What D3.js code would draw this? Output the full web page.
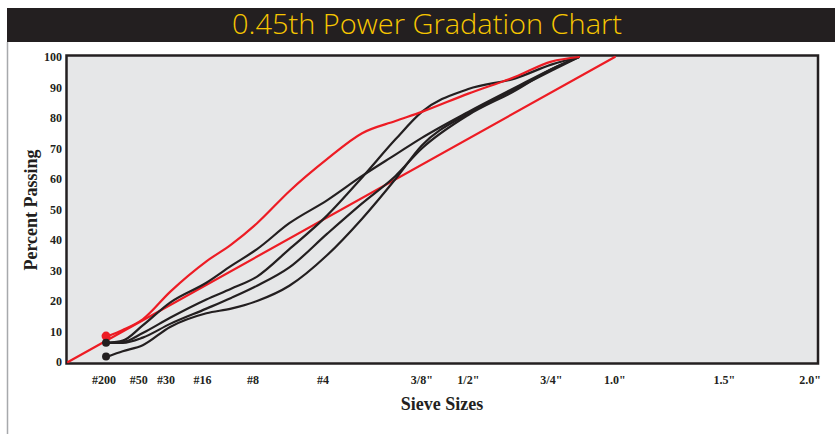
<!DOCTYPE html>
<html>
<head>
<meta charset="utf-8">
<script src="https://cdn.jsdelivr.net/npm/d3@7"></script>
<style>
  body { margin: 0; background: #fff; }
  text { font-family: "Liberation Serif", "DejaVu Serif", serif; font-weight: bold; fill: #231f20; }
  .title { font-family: "Open Sans", Lato, sans-serif; font-weight: 300; fill: #f7c600; }
</style>
</head>
<body>
<svg id="chart" width="835" height="434"></svg>
<script>
// sieve axis
const sieveLabels = ["#200", "#50", "#30", "#16", "#8", "#4", '3/8"', '1/2"', '3/4"', '1.0"', '1.5"', '2.0"'];
const sieveSizes  = [0.075, 0.3, 0.6, 1.18, 2.36, 4.75, 9.5, 12.5, 19, 25, 37.5, 50];   // mm
const yTicks = [0, 10, 20, 30, 40, 50, 60, 70, 80, 90, 100];

// gradation curves, % passing at these sizes (mm)
const curveSizes = [0.075, 0.15, 0.3, 0.6, 1.18, 1.7, 2.36, 3.35, 4.75, 6.3, 8, 9.5, 12.5, 16, 19, 21.5];
const redCurve = [8.5, 10.5, 14, 23, 33, 38.5, 45.5, 56, 66.5, 75, 79, 82, 88, 93.5, 98.5, 100];
const blackA   = [6.3, 7, 12, 19.5, 26, 31.5, 37, 45.5, 53, 61, 68, 73.5, 82, 90, 96, 100];
const blackB   = [6.3, 6.5, 9.5, 14.5, 20.5, 24, 28, 37, 48, 60.5, 73, 82, 89.5, 93, 97.5, 100];
const blackC   = [6.3, 6.3, 8, 12.5, 17.5, 21, 25, 31, 42, 52, 61, 70, 81, 89, 96, 100];
const blackD   = [1.8, 3.5, 5.5, 11.5, 16, 17.5, 20, 25, 35, 47, 60, 71, 81.5, 89.5, 95.5, 100];

// maximum density line
const maxDensitySizes = [0, 25];
const maxDensityPct   = [0, 100];

const svg = d3.select("#chart");

let x = d3.scalePow().exponent(0.45).domain([0, 50]).range([68, 815]);
let y = d3.scaleLinear().domain([0, 100]).range([362, 57]);

// title bar
svg.append("rect").attr("x", 7).attr("y", 8).attr("width", 828).attr("height", 34).attr("fill", "#231f20");
svg.append("text").attr("class", "title")
    .attr("x", 427).attr("y", 34)
    .attr("text-anchor", "middle")
    .attr("textLength", 390)
    .attr("lengthAdjust", "spacingAndGlyphs")
    .style("font-size", "27px")
    .text("0.45th Power Gradation Chart");

// left page rule
svg.append("line").attr("x1", 7.5).attr("x2", 7.5).attr("y1", 42).attr("y2", 434)
    .attr("stroke", "#a7a9ac").attr("stroke-width", 1.5);

// plot frame
svg.append("rect")
    .attr("x", 66.5).attr("y", y(100) - 1.5)
    .attr("width", 818 - 66.5).attr("height", y(0) - y(100) + 3)
    .attr("fill", "#e6e7e8")
    .attr("stroke", "#231f20")
    .attr("stroke-width", 2.5);

// y labels
svg.append("g").selectAll("text")
    .data(yTicks)
    .enter()
    .append("text")
    .attr("x", 62)
    .attr("y", d => y(d) + 4)
    .attr("text-anchor", "end")
    .style("font-size", "12px")
    .text(d => d);

// x labels
svg.append("g").selectAll("text")
    .data(sieveSizes)
    .enter()
    .append("text")
    .attr("x", (d, i) => Math.min(x(d) - (i < 6 ? 4 : 0), 810))
    .attr("y", 384)
    .attr("text-anchor", "middle")
    .style("font-size", "12px")
    .text((d, i) => sieveLabels[i]);

// axis titles
svg.append("text")
    .attr("transform", "translate(37,210) rotate(-90)")
    .attr("text-anchor", "middle")
    .style("font-size", "18px")
    .text("Percent Passing");

svg.append("text")
    .attr("x", 442).attr("y", 410)
    .attr("text-anchor", "middle")
    .style("font-size", "18px")
    .text("Sieve Sizes");

// lines
let line = d3.line()
    .x(d => x(d[0]))
    .y(d => y(d[1]))
    .curve(d3.curveMonotoneX);

function pairs(sizes, vals) {
    return sizes.map((s, i) => [s, vals[i]]);
}

let lines = svg.append("g").attr("fill", "none").attr("stroke-width", 2.2).attr("stroke-linecap", "round");

lines.append("path")
    .attr("d", d3.line().x(d => x(d[0])).y(d => y(d[1]))(pairs(maxDensitySizes, maxDensityPct)))
    .attr("stroke", "#ed1c24");

let blacks = [blackD, blackC, blackB, blackA];
blacks.forEach(function(vals) {
    lines.append("path")
        .attr("d", line(pairs(curveSizes, vals)))
        .attr("stroke", "#231f20");
});

lines.append("path")
    .attr("d", line(pairs(curveSizes, redCurve)))
    .attr("stroke", "#ed1c24");

// start dots
svg.append("g").selectAll("circle")
    .data([redCurve, blackA, blackD])
    .enter()
    .append("circle")
    .attr("cx", x(curveSizes[0]) - 2)
    .attr("cy", d => y(d[0]))
    .attr("r", (d, i) => i == 0 ? 4.5 : 4)
    .attr("fill", (d, i) => i == 0 ? "#ed1c24" : "#231f20");
</script>
</body>
</html>
